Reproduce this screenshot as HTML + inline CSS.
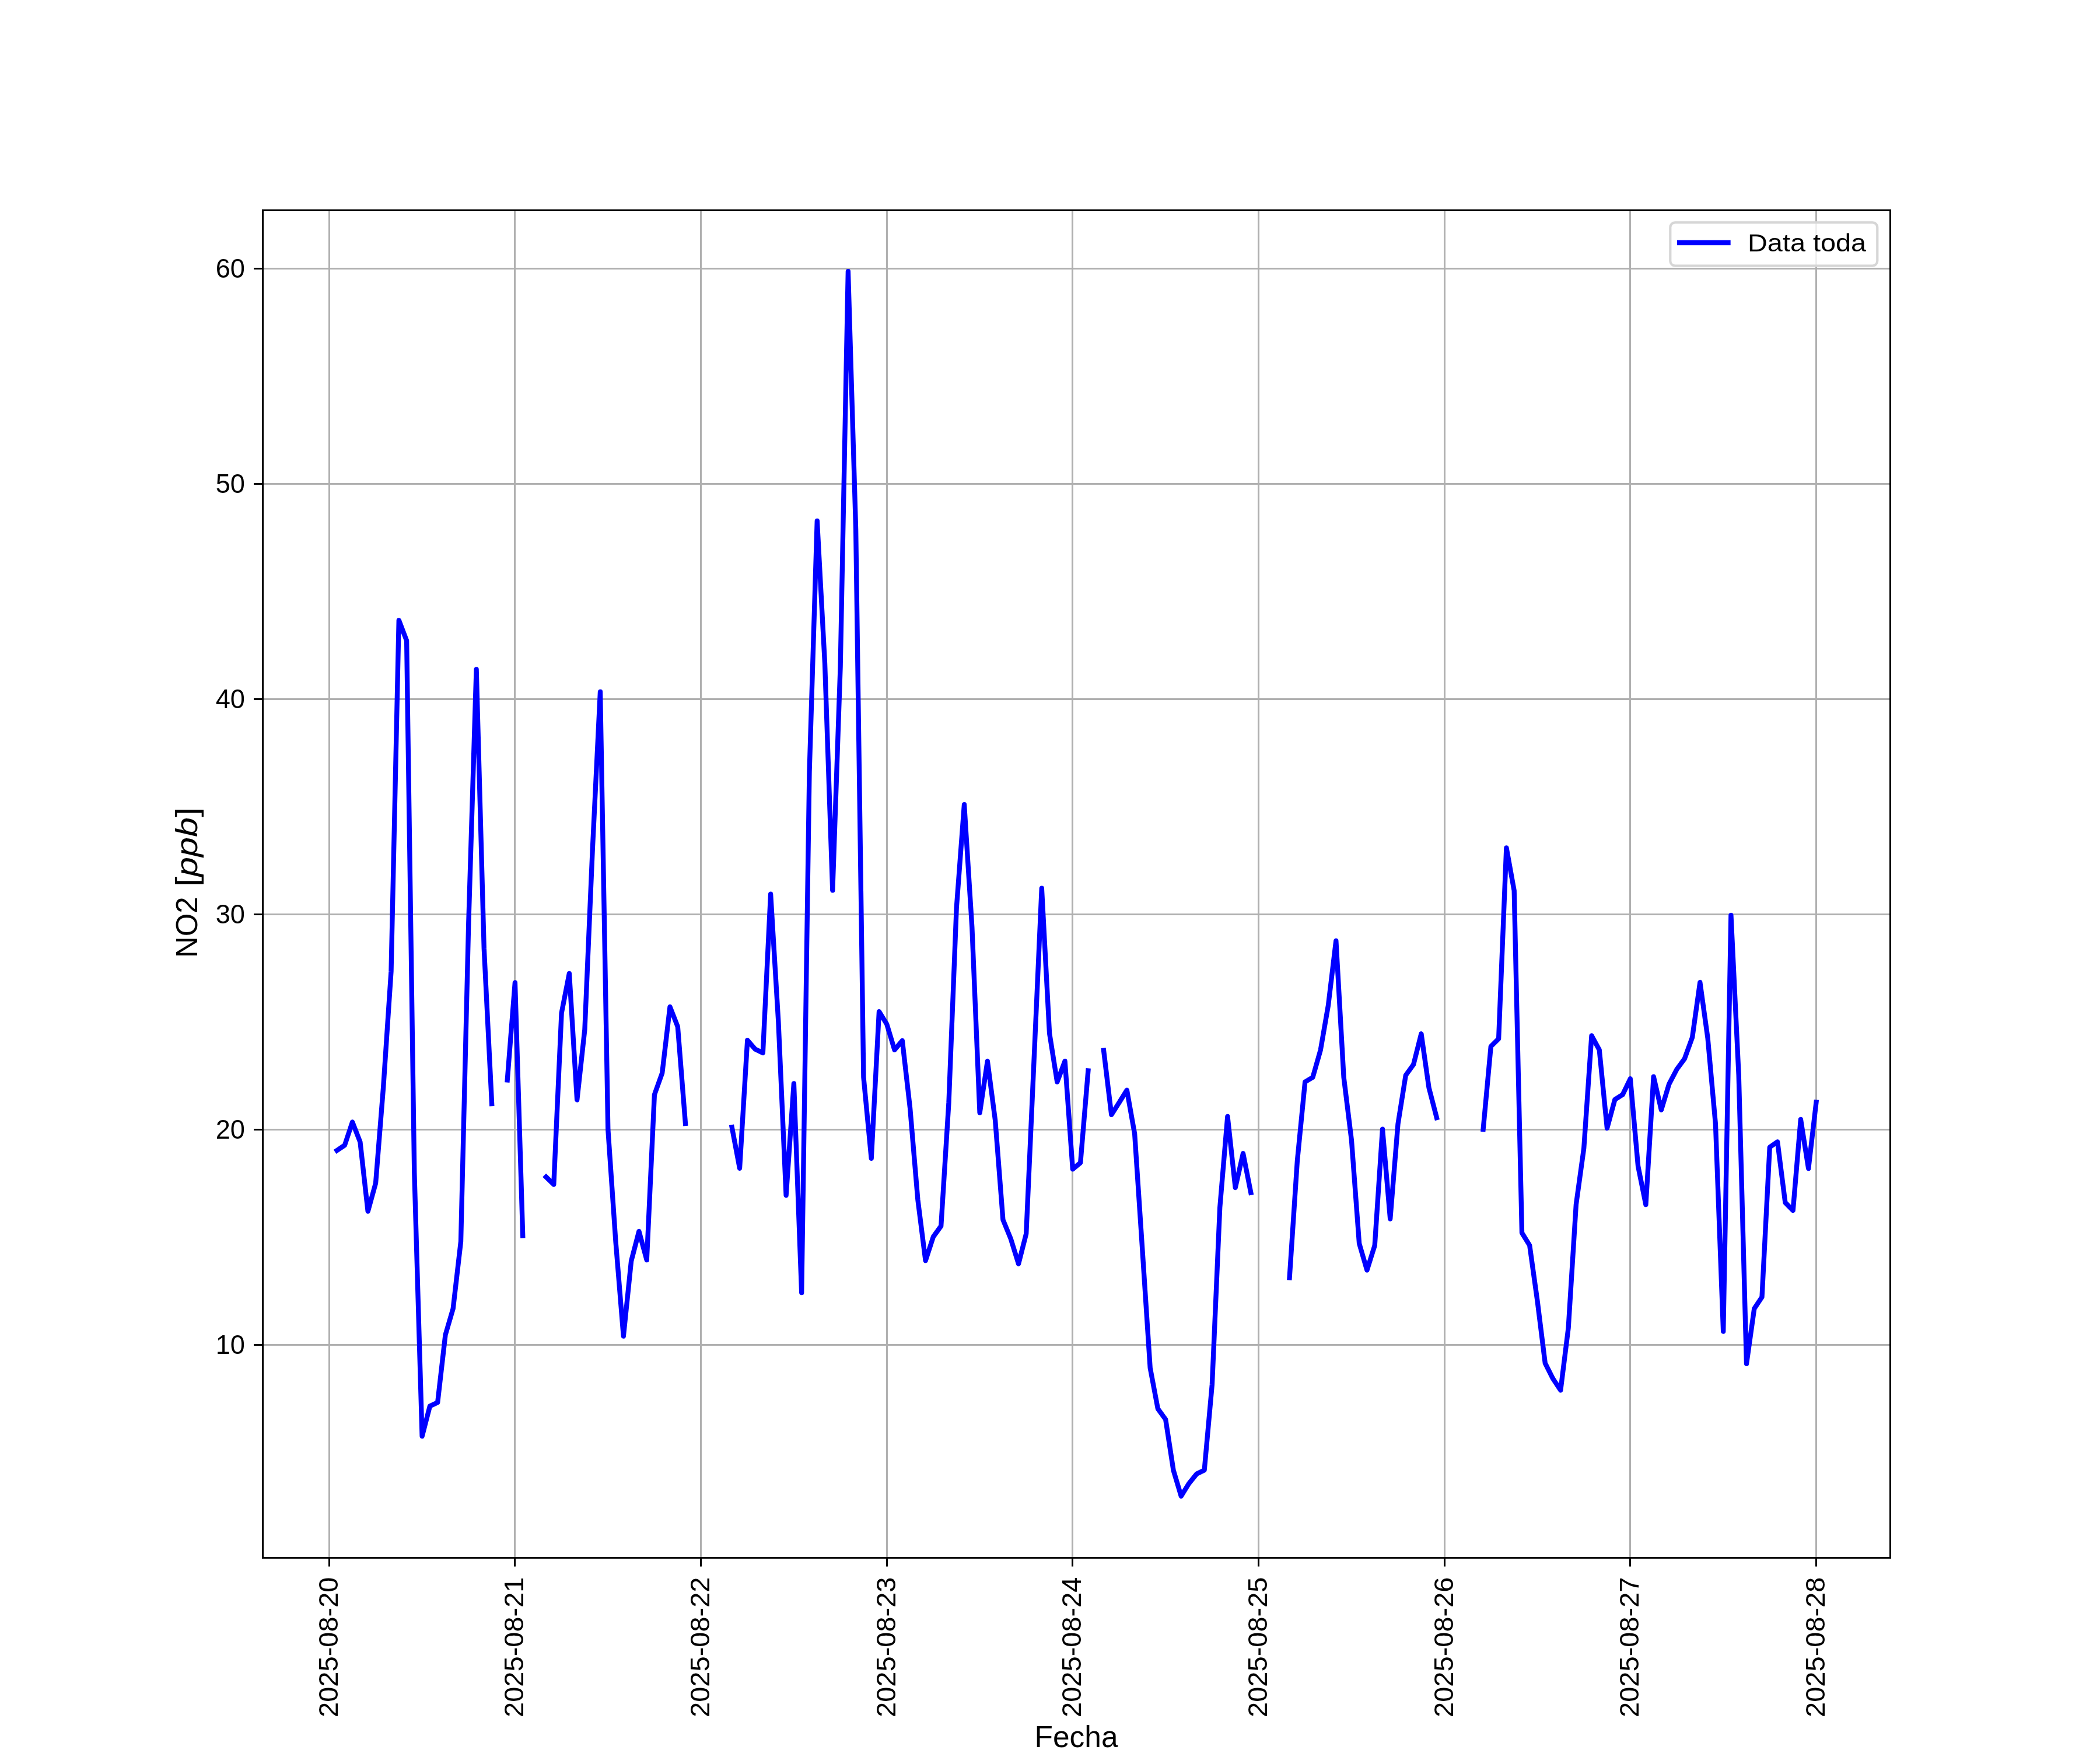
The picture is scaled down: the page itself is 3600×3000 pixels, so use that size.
<!DOCTYPE html>
<html><head><meta charset="utf-8"><style>
html,body{margin:0;padding:0;background:#fff;width:3600px;height:3000px;overflow:hidden}
svg{display:block;will-change:transform}
text{font-family:"Liberation Sans",sans-serif;fill:#000}
</style></head><body>
<svg width="3600" height="3000" viewBox="0 0 3600 3000">
<rect width="3600" height="3000" fill="#fff"/>
<line x1="564.50" y1="360.0" x2="564.50" y2="2670.0" stroke="#b0b0b0" stroke-width="3"/>
<line x1="882.50" y1="360.0" x2="882.50" y2="2670.0" stroke="#b0b0b0" stroke-width="3"/>
<line x1="1201.50" y1="360.0" x2="1201.50" y2="2670.0" stroke="#b0b0b0" stroke-width="3"/>
<line x1="1520.50" y1="360.0" x2="1520.50" y2="2670.0" stroke="#b0b0b0" stroke-width="3"/>
<line x1="1838.50" y1="360.0" x2="1838.50" y2="2670.0" stroke="#b0b0b0" stroke-width="3"/>
<line x1="2157.50" y1="360.0" x2="2157.50" y2="2670.0" stroke="#b0b0b0" stroke-width="3"/>
<line x1="2476.50" y1="360.0" x2="2476.50" y2="2670.0" stroke="#b0b0b0" stroke-width="3"/>
<line x1="2794.50" y1="360.0" x2="2794.50" y2="2670.0" stroke="#b0b0b0" stroke-width="3"/>
<line x1="3113.50" y1="360.0" x2="3113.50" y2="2670.0" stroke="#b0b0b0" stroke-width="3"/>
<line x1="450.0" y1="2305.50" x2="3240.0" y2="2305.50" stroke="#b0b0b0" stroke-width="3"/>
<line x1="450.0" y1="1936.50" x2="3240.0" y2="1936.50" stroke="#b0b0b0" stroke-width="3"/>
<line x1="450.0" y1="1567.50" x2="3240.0" y2="1567.50" stroke="#b0b0b0" stroke-width="3"/>
<line x1="450.0" y1="1198.50" x2="3240.0" y2="1198.50" stroke="#b0b0b0" stroke-width="3"/>
<line x1="450.0" y1="829.50" x2="3240.0" y2="829.50" stroke="#b0b0b0" stroke-width="3"/>
<line x1="450.0" y1="460.50" x2="3240.0" y2="460.50" stroke="#b0b0b0" stroke-width="3"/>
<polyline points="577.6,1972.2 590.9,1963.3 604.1,1923.5 617.4,1957.8 630.7,2076.6 644.0,2028.3 657.2,1863.3 670.5,1665.2 683.8,1063.3 697.1,1098.3 710.3,2010.2 723.6,2462.2 736.9,2410.6 750.2,2404.3 763.5,2288.4 776.7,2243.4 790.0,2128.3 803.3,1582.1 816.6,1147.4 829.8,1626.4 843.1,1892.1" fill="none" stroke="#0000ff" stroke-width="8.333" stroke-linejoin="round" stroke-linecap="square"/>
<polyline points="869.7,1851.5 882.9,1684.3 896.2,2118.3" fill="none" stroke="#0000ff" stroke-width="8.333" stroke-linejoin="round" stroke-linecap="square"/>
<polyline points="936.1,2017.6 949.3,2030.5 962.6,1736.7 975.9,1668.8 989.2,1885.5 1002.4,1765.2 1015.7,1456.7 1029.0,1185.8 1042.3,1936.4 1055.5,2128.3 1068.8,2290.6 1082.1,2161.9 1095.4,2110.9 1108.7,2160.0 1121.9,1876.6 1135.2,1839.3 1148.5,1726.0 1161.8,1760.0 1175.0,1926.0" fill="none" stroke="#0000ff" stroke-width="8.333" stroke-linejoin="round" stroke-linecap="square"/>
<polyline points="1254.7,1932.3 1268.0,2002.8 1281.3,1783.2 1294.5,1798.4 1307.8,1805.0 1321.1,1532.7 1334.4,1751.9 1347.6,2049.3 1360.9,1857.4 1374.2,2216.1 1387.5,1323.8 1400.8,892.8 1414.0,1137.1 1427.3,1526.4 1440.6,1143.0 1453.9,465.1 1467.1,906.8 1480.4,1846.7 1493.7,1985.8 1507.0,1734.2 1520.2,1755.6 1533.5,1799.8 1546.8,1784.0 1560.1,1899.8 1573.4,2056.7 1586.6,2161.1 1599.9,2120.2 1613.2,2101.7 1626.5,1889.9 1639.7,1556.3 1653.0,1379.2 1666.3,1589.5 1679.6,1907.6 1692.8,1819.0 1706.1,1920.5 1719.4,2091.0 1732.7,2123.5 1746.0,2166.6 1759.2,2115.0 1772.5,1819.0 1785.8,1522.7 1799.1,1771.4 1812.3,1854.8 1825.6,1819.0 1838.9,2004.3 1852.2,1993.2 1865.4,1835.6" fill="none" stroke="#0000ff" stroke-width="8.333" stroke-linejoin="round" stroke-linecap="square"/>
<polyline points="1892.0,1800.6 1905.3,1910.9 1918.6,1889.9 1931.8,1868.8 1945.1,1943.4 1958.4,2143.0 1971.7,2344.9 1984.9,2415.0 1998.2,2433.4 2011.5,2520.2 2024.8,2564.8 2038.0,2543.4 2051.3,2526.8 2064.6,2520.2 2077.9,2373.3 2091.2,2070.0 2104.4,1913.9 2117.7,2036.0 2131.0,1977.3 2144.3,2044.5" fill="none" stroke="#0000ff" stroke-width="8.333" stroke-linejoin="round" stroke-linecap="square"/>
<polyline points="2210.6,2190.3 2223.9,1990.3 2237.2,1854.8 2250.5,1846.7 2263.8,1799.8 2277.0,1723.5 2290.3,1612.7 2303.6,1846.7 2316.9,1954.8 2330.1,2131.6 2343.4,2177.4 2356.7,2134.9 2370.0,1935.6 2383.2,2089.5 2396.5,1926.8 2409.8,1843.4 2423.1,1824.9 2436.4,1772.2 2449.6,1864.8 2462.9,1916.1" fill="none" stroke="#0000ff" stroke-width="8.333" stroke-linejoin="round" stroke-linecap="square"/>
<polyline points="2542.6,1936.0 2555.8,1793.9 2569.1,1780.7 2582.4,1453.3 2595.7,1526.8 2609.0,2113.5 2622.2,2134.9 2635.5,2230.1 2648.8,2336.8 2662.1,2363.3 2675.3,2383.3 2688.6,2276.6 2701.9,2064.8 2715.2,1968.5 2728.5,1775.5 2741.7,1799.8 2755.0,1934.2 2768.3,1885.1 2781.6,1876.6 2794.8,1849.3 2808.1,1999.1 2821.4,2065.2 2834.7,1845.6 2847.9,1902.8 2861.2,1858.5 2874.5,1833.1 2887.8,1815.0 2901.1,1778.4 2914.3,1684.0 2927.6,1779.9 2940.9,1926.8 2954.2,2282.5 2967.4,1568.8 2980.7,1843.4 2994.0,2337.9 3007.3,2243.4 3020.5,2223.5 3033.8,1966.6 3047.1,1957.4 3060.4,2061.5 3073.7,2075.1 3086.9,1919.0 3100.2,2003.2 3113.5,1889.5" fill="none" stroke="#0000ff" stroke-width="8.333" stroke-linejoin="round" stroke-linecap="square"/>
<rect x="450.5" y="360.5" width="2790.0" height="2310.0" fill="none" stroke="#000" stroke-width="3" stroke-linejoin="miter" stroke-linecap="square"/>
<line x1="564.50" y1="2670.5" x2="564.50" y2="2685.5" stroke="#000" stroke-width="3"/>
<line x1="882.50" y1="2670.5" x2="882.50" y2="2685.5" stroke="#000" stroke-width="3"/>
<line x1="1201.50" y1="2670.5" x2="1201.50" y2="2685.5" stroke="#000" stroke-width="3"/>
<line x1="1520.50" y1="2670.5" x2="1520.50" y2="2685.5" stroke="#000" stroke-width="3"/>
<line x1="1838.50" y1="2670.5" x2="1838.50" y2="2685.5" stroke="#000" stroke-width="3"/>
<line x1="2157.50" y1="2670.5" x2="2157.50" y2="2685.5" stroke="#000" stroke-width="3"/>
<line x1="2476.50" y1="2670.5" x2="2476.50" y2="2685.5" stroke="#000" stroke-width="3"/>
<line x1="2794.50" y1="2670.5" x2="2794.50" y2="2685.5" stroke="#000" stroke-width="3"/>
<line x1="3113.50" y1="2670.5" x2="3113.50" y2="2685.5" stroke="#000" stroke-width="3"/>
<line x1="435" y1="2305.50" x2="450.5" y2="2305.50" stroke="#000" stroke-width="3"/>
<line x1="435" y1="1936.50" x2="450.5" y2="1936.50" stroke="#000" stroke-width="3"/>
<line x1="435" y1="1567.50" x2="450.5" y2="1567.50" stroke="#000" stroke-width="3"/>
<line x1="435" y1="1198.50" x2="450.5" y2="1198.50" stroke="#000" stroke-width="3"/>
<line x1="435" y1="829.50" x2="450.5" y2="829.50" stroke="#000" stroke-width="3"/>
<line x1="435" y1="460.50" x2="450.5" y2="460.50" stroke="#000" stroke-width="3"/>
<text x="0" y="0" transform="translate(419.90,2321.20) scale(0.963,1)" text-anchor="end" font-size="46.9">10</text>
<text x="0" y="0" transform="translate(419.90,1952.18) scale(0.963,1)" text-anchor="end" font-size="46.9">20</text>
<text x="0" y="0" transform="translate(419.90,1583.16) scale(0.963,1)" text-anchor="end" font-size="46.9">30</text>
<text x="0" y="0" transform="translate(419.90,1214.14) scale(0.963,1)" text-anchor="end" font-size="46.9">40</text>
<text x="0" y="0" transform="translate(419.90,845.12) scale(0.963,1)" text-anchor="end" font-size="46.9">50</text>
<text x="0" y="0" transform="translate(419.90,476.10) scale(0.963,1)" text-anchor="end" font-size="46.9">60</text>
<text x="0" y="0" transform="translate(578.60,2703.50) rotate(-90) scale(1.0,1)" text-anchor="end" font-size="47.0">2025-08-20</text>
<text x="0" y="0" transform="translate(897.25,2703.50) rotate(-90) scale(1.0,1)" text-anchor="end" font-size="47.0">2025-08-21</text>
<text x="0" y="0" transform="translate(1215.90,2703.50) rotate(-90) scale(1.0,1)" text-anchor="end" font-size="47.0">2025-08-22</text>
<text x="0" y="0" transform="translate(1534.55,2703.50) rotate(-90) scale(1.0,1)" text-anchor="end" font-size="47.0">2025-08-23</text>
<text x="0" y="0" transform="translate(1853.20,2703.50) rotate(-90) scale(1.0,1)" text-anchor="end" font-size="47.0">2025-08-24</text>
<text x="0" y="0" transform="translate(2171.85,2703.50) rotate(-90) scale(1.0,1)" text-anchor="end" font-size="47.0">2025-08-25</text>
<text x="0" y="0" transform="translate(2490.50,2703.50) rotate(-90) scale(1.0,1)" text-anchor="end" font-size="47.0">2025-08-26</text>
<text x="0" y="0" transform="translate(2809.15,2703.50) rotate(-90) scale(1.0,1)" text-anchor="end" font-size="47.0">2025-08-27</text>
<text x="0" y="0" transform="translate(3127.80,2703.50) rotate(-90) scale(1.0,1)" text-anchor="end" font-size="47.0">2025-08-28</text>
<text x="0" y="0" transform="translate(1845,2995.4) scale(1.012,1)" text-anchor="middle" font-size="50.9">Fecha</text>
<text x="0" y="0" transform="translate(338,1642) rotate(-90) scale(1.0,1)" font-size="50.9">NO2</text>
<text x="0" y="0" transform="translate(338,1384) rotate(-90) scale(1.2,1)" text-anchor="end" font-size="50.9">[<tspan font-style="italic">ppb</tspan>]</text>
<rect x="2863.3" y="381.3" width="355" height="74.4" rx="8.33" ry="8.33" fill="#ffffff" fill-opacity="0.8" stroke="#d6d6d6" stroke-width="4.17"/>
<line x1="2879.2" y1="416" x2="2962.5" y2="416" stroke="#0000ff" stroke-width="8.333" stroke-linecap="square"/>
<text x="0" y="0" transform="translate(2996,431) scale(1.105,1)" font-size="42.4">Data toda</text>
</svg>
</body></html>
